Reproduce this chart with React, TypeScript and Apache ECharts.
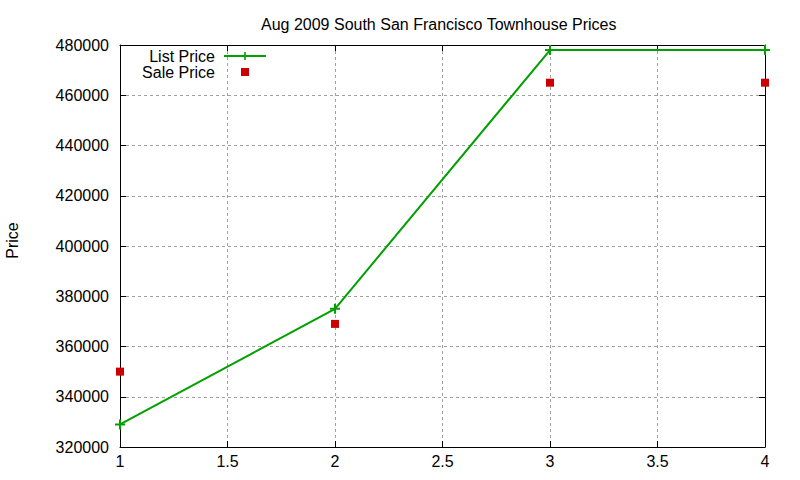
import React, { useEffect, useRef } from "react";
import * as echarts from "echarts";

const chartTitle = "Aug 2009 South San Francisco Townhouse Prices";
const yAxisName = "Price";
const seriesNames = ["List Price", "Sale Price"];
const xValues = [1, 2, 3, 4];
const listPrice = [329000, 375000, 478000, 478000];
const salePrice = [350000, 369000, 465000, 465000];

const FONT = "Liberation Sans, Arial, sans-serif";
const GREEN = "#00a000";
const RED = "#cc0000";
const PLUS = "path://M4,0 H6 V4 H10 V6 H6 V10 H4 V6 H0 V4 H4 Z";
const SQUARE = "path://M0,0 L0,0 M1,1 H9 V9 H1 Z M10,10 L10,10";

export default function App() {
  const ref = useRef<HTMLDivElement>(null);
  useEffect(() => {
    if (!ref.current) return;
    const chart = echarts.init(ref.current, undefined, { renderer: "svg" });
    const tickStyle = { show: true, inside: true, length: 6, lineStyle: { color: "#000", width: 1 } };
    const axisLine = { show: true, onZero: false, lineStyle: { color: "#000", width: 1 } };
    const splitLine = { show: true, lineStyle: { color: "#a0a0a0", width: 1, type: [3, 3] } };
    chart.setOption({
      animation: false,
      backgroundColor: "#fff",
      textStyle: { fontFamily: FONT },
      title: {
        text: chartTitle,
        left: 261,
        top: 16,
        padding: 0,
        textStyle: { fontFamily: FONT, fontSize: 16, fontWeight: "normal", color: "#000" },
      },
      legend: {
        orient: "vertical",
        align: "right",
        right: 533,
        top: 48,
        padding: 0,
        itemGap: 0,
        itemWidth: 42,
        itemHeight: 10,
        symbolKeepAspect: true,
        textStyle: { fontFamily: FONT, fontSize: 16, color: "#000", padding: [0, 4, 0, 0] },
        data: [
          { name: seriesNames[0] },
          { name: seriesNames[1], icon: SQUARE, itemStyle: { color: RED, opacity: 1 } },
        ],
      },
      grid: { left: 120, right: 35, top: 45, bottom: 33, containLabel: false, outerBoundsMode: "none" },
      xAxis: [
        {
          type: "value",
          min: 1,
          max: 4,
          interval: 0.5,
          position: "bottom",
          axisLine,
          axisTick: tickStyle,
          splitLine,
          axisLabel: { fontFamily: FONT, fontSize: 16, color: "#000", margin: 6 },
        },
        {
          type: "value",
          min: 1,
          max: 4,
          interval: 0.5,
          position: "top",
          axisLine,
          axisTick: tickStyle,
          splitLine: { show: false },
          axisLabel: { show: false },
        },
      ],
      yAxis: [
        {
          type: "value",
          min: 320000,
          max: 480000,
          interval: 20000,
          position: "left",
          name: yAxisName,
          nameLocation: "middle",
          nameGap: 100,
          nameRotate: 90,
          nameTextStyle: { fontFamily: FONT, fontSize: 16, color: "#000", padding: [0, 0, 0, 11] },
          axisLine,
          axisTick: tickStyle,
          splitLine,
          axisLabel: {
            fontFamily: FONT,
            fontSize: 16,
            color: "#000",
            margin: 11,
            formatter: (v: number) => String(v),
          },
        },
        {
          type: "value",
          min: 320000,
          max: 480000,
          interval: 20000,
          position: "right",
          axisLine,
          axisTick: tickStyle,
          splitLine: { show: false },
          axisLabel: { show: false },
        },
      ],
      series: [
        {
          name: seriesNames[0],
          type: "line",
          data: xValues.map((x, i) => [x, listPrice[i]]),
          symbol: PLUS,
          symbolSize: 10,
          showSymbol: true,
          clip: false,
          lineStyle: { color: GREEN, width: 2 },
          itemStyle: { color: GREEN },
          z: 3,
        },
        {
          name: seriesNames[1],
          type: "scatter",
          data: xValues.map((x, i) => [x, salePrice[i]]),
          symbol: "rect",
          symbolSize: 8,
          clip: false,
          itemStyle: { color: RED, opacity: 1 },
          z: 4,
        },
      ],
    });
    return () => chart.dispose();
  }, []);
  return (
    <div
      ref={ref}
      style={{ position: "fixed", left: 0, top: 0, width: 800, height: 480, background: "#fff" }}
    />
  );
}
